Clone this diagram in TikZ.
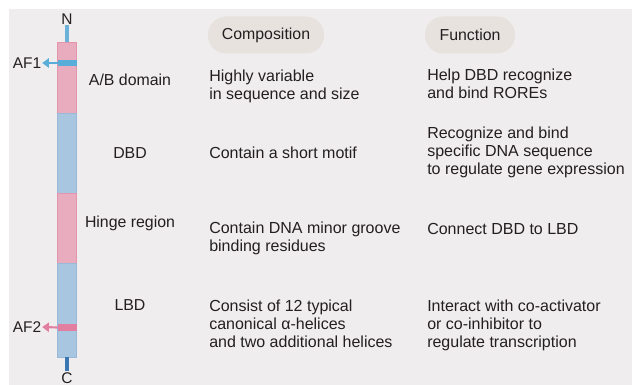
\documentclass[tikz,border=0pt]{standalone}
\usepackage{fontspec}
\setmainfont{Liberation Sans}
\usepackage{xcolor}
\usetikzlibrary{arrows.meta, positioning}
\definecolor{clrBg}{HTML}{EFEDEE}
\definecolor{clrPill}{HTML}{E8E2DF}
\definecolor{clrPink}{HTML}{E9ABBE}
\definecolor{clrPinkDark}{HTML}{E295AD}
\definecolor{clrPinkBand}{HTML}{E27EA0}
\definecolor{clrBlue}{HTML}{A8C6E0}
\definecolor{clrBlueDark}{HTML}{98BAD8}
\definecolor{clrBlueBand}{HTML}{58AED8}
\definecolor{clrStemN}{HTML}{6AB2D9}
\definecolor{clrStemC}{HTML}{3A76B2}
\definecolor{clrText}{HTML}{231F20}
\tikzset{
  seg pink/.style={rectangle, draw=clrPinkDark, fill=clrPink, line width=0.4pt, minimum width=14.25pt, inner sep=0pt, outer sep=0pt},
  seg blue/.style={rectangle, draw=clrBlueDark, fill=clrBlue, line width=0.4pt, minimum width=14.25pt, inner sep=0pt, outer sep=0pt},
  af band/.style={rectangle, minimum width=14.25pt, inner sep=0pt, outer sep=0pt},
  af arr/.style={-{Triangle[length=5pt, width=7pt]}, line width=1.6pt},
  stem/.style={line width=3pt},
  end lbl/.style={font=\fontsize{11.6}{12.5}\selectfont, inner sep=0.6pt},
  dom lbl/.style={font=\fontsize{11.9}{13.3}\selectfont, inner sep=0pt},
  col txt/.style={anchor=north west, align=left, inner sep=0pt, font=\fontsize{12}{13.3}\selectfont},
  pill/.style={rectangle, rounded corners=13.5pt, fill=clrPill, minimum height=27.75pt, inner sep=0pt, font=\fontsize{11.9}{13.3}\selectfont},
}

\begin{document}
\begin{tikzpicture}[x=0.75pt, y=-0.75pt, text=clrText]
  \useasboundingbox (0,0) rectangle (632,385);
  \fill[clrBg] (9,9) rectangle (632,385);

  % Headers
  \node[pill, minimum width=87pt] (hdComp) at (266,35) {Composition};
  \node[pill, minimum width=67.5pt] (hdFunc) at (470,35) {Function};

  % Receptor bar
  \node[seg pink, minimum height=53.25pt, anchor=north] (ab) at (67,42) {};
  \node[seg blue, minimum height=60pt, below=0pt of ab] (dbd) {};
  \node[seg pink, minimum height=52.5pt, below=0pt of dbd] (hinge) {};
  \node[seg blue, minimum height=70.5pt, below=0pt of hinge] (lbd) {};

  % Termini
  \node[end lbl] (nTerm) at (67,19) {N};
  \node[end lbl] (cTerm) at (67,378) {C};
  \draw[stem, clrStemN] (nTerm.south) -- (ab.north);
  \draw[stem, clrStemC] (lbd.south) -- (cTerm.north);

  % Activation functions
  \node[af band, fill=clrBlueBand, minimum height=4.5pt] (af1) at (67,63) {};
  \node[af band, fill=clrPinkBand, minimum height=5.25pt] (af2) at (67,327.5) {};
  \node[end lbl] (af1Lbl) at (27,63) {AF1};
  \node[end lbl] (af2Lbl) at (27,327) {AF2};
  \draw[af arr, clrBlueBand] (af1.west) -- (af1Lbl.east);
  \draw[af arr, clrPinkBand] (af2.west) -- (af2Lbl.east);

  % Domain names
  \node[dom lbl] (abLbl) at (130,80) {A/B domain};
  \node[dom lbl] (dbdLbl) at (130,153) {DBD};
  \node[dom lbl] (hingeLbl) at (130,223) {Hinge region};
  \node[dom lbl] (lbdLbl) at (130,305) {LBD};

  % Composition column
  \node[col txt] (abComp) at (209,70) {Highly variable\\in sequence and size};
  \node[col txt] (dbdComp) at (209,147) {Contain a short motif};
  \node[col txt] (hingeComp) at (209,222) {Contain DNA minor groove\\binding residues};
  \node[col txt] (lbdComp) at (209,300) {Consist of 12 typical\\canonical α-helices\\and two additional helices};

  % Function column
  \node[col txt] (abFunc) at (427,69) {Help DBD recognize\\and bind ROREs};
  \node[col txt] (dbdFunc) at (427,127) {Recognize and bind\\specific DNA sequence\\to regulate gene expression};
  \node[col txt] (hingeFunc) at (427,223) {Connect DBD to LBD};
  \node[col txt] (lbdFunc) at (427,300) {Interact with co-activator\\or co-inhibitor to\\regulate transcription};
\end{tikzpicture}
\end{document}
